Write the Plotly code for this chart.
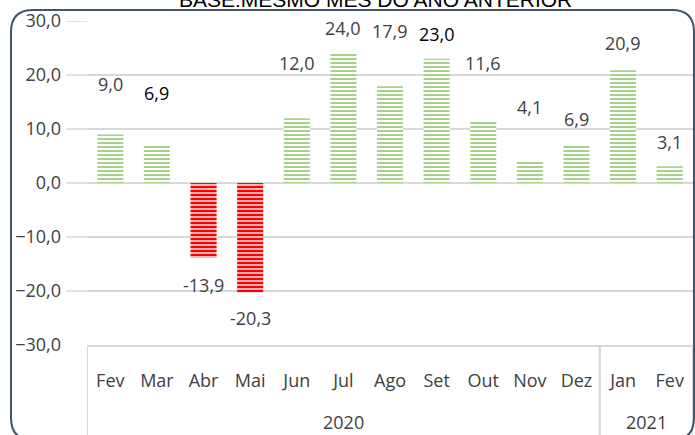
import plotly.graph_objects as go

years = ["2020"] * 11 + ["2021"] * 2
months = ["Fev", "Mar", "Abr", "Mai", "Jun", "Jul", "Ago", "Set", "Out", "Nov", "Dez", "Jan", "Fev"]
values = [9.0, 6.9, -13.9, -20.3, 12.0, 24.0, 17.9, 23.0, 11.6, 4.1, 6.9, 20.9, 3.1]
label_shift = [50, 53, -27, -25, 55, 25, 55, 25, 57, 54, 27, 27, 24]
label_dark = [False, True, False, False, False, False, False, True, False, False, False, False, False]
y_ticks = [-30, -20, -10, 0, 10, 20, 30]

GREEN = "#A9D18E"
RED = "#FF0000"
GRID = "#D9D9D9"
TXT = "#404040"
FONT = "Open Sans"

# plot area in pixels
L, R, T, B = 87, 693, 21, 345
W, H = 695, 435
pw, ph = R - L, B - T


def px(x):
    return (x - L) / pw


def py(y):
    return (B - y) / ph


keys = [f"{y}-{m}" for y, m in zip(years, months)]

fig = go.Figure()
for positive, color, solid in ((True, GREEN, 0.5), (False, RED, 0.65)):
    fig.add_trace(go.Bar(
        x=keys,
        y=[v if (v >= 0) == positive else None for v in values],
        width=0.56,
        marker=dict(
            color=color,
            line=dict(width=0),
            pattern=dict(shape="-", fgcolor=color, fgopacity=1, bgcolor="white",
                         size=4, solidity=solid),
        ),
        hoverinfo="skip",
    ))

for i, v in enumerate(values):
    fig.add_annotation(
        x=keys[i], y=v,
        text=f"{v:.1f}".replace(".", ","),
        showarrow=False,
        yshift=label_shift[i],
        font=dict(family=FONT, size=18, color="#000000" if label_dark[i] else TXT),
        xref="x", yref="y",
    )

shapes = []
# gridline extensions into the left margin
for t in y_ticks[1:]:
    shapes.append(dict(type="line", xref="paper", yref="y", x0=px(66), x1=0, y0=t, y1=t,
                       line=dict(color=GRID, width=1.5)))

# year groups: labels and dividers
groups = []
for i, y in enumerate(years):
    if not groups or groups[-1][0] != y:
        groups.append([y, i, i])
    else:
        groups[-1][2] = i
for name, a, b in groups:
    fig.add_annotation(
        x=(a + b) / 2, y=py(422), xref="x", yref="paper", text=name, showarrow=False,
        yanchor="middle", font=dict(family=FONT, size=18, color=TXT),
    )
    for xb in (a - 0.5, b + 0.5):
        shapes.append(dict(type="line", xref="x", yref="paper", x0=xb, x1=xb,
                           y0=0, y1=py(445), line=dict(color=GRID, width=2)))

# rounded chart border
r = 22
x0, y0, x1, y1 = 11, 10, 694, 440
path = (f"M {px(x0)},{py(y1 - r)} L {px(x0)},{py(y0 + r)} "
        f"Q {px(x0)},{py(y0)} {px(x0 + r)},{py(y0)} "
        f"L {px(x1 - r)},{py(y0)} Q {px(x1)},{py(y0)} {px(x1)},{py(y0 + r)} "
        f"L {px(x1)},{py(y1 - r)} Q {px(x1)},{py(y1)} {px(x1 - r)},{py(y1)} "
        f"L {px(x0 + r)},{py(y1)} Q {px(x0)},{py(y1)} {px(x0)},{py(y1 - r)} Z")
shapes.append(dict(type="path", xref="paper", yref="paper", path=path,
                   line=dict(color="#44546A", width=2), fillcolor="rgba(0,0,0,0)"))

fig.update_layout(
    width=W, height=H,
    margin=dict(l=L, r=W - R, t=T, b=H - B, autoexpand=False),
    paper_bgcolor="white", plot_bgcolor="white",
    separators=",.",
    showlegend=False,
    barmode="relative",
    shapes=shapes,
    font=dict(family=FONT, size=18, color=TXT),
)
fig.add_annotation(
    text="BASE:MESMO MÊS DO ANO ANTERIOR", xref="paper", yref="paper",
    x=px(375), y=py(0), showarrow=False, yanchor="middle", xanchor="center",
    font=dict(family="Liberation Sans", size=21, color="#000000"),
)

fig.update_xaxes(
    type="category", tickvals=keys, ticktext=months,
    range=[-0.5, len(keys) - 0.5],
    showline=True, linecolor=GRID, linewidth=2,
    ticks="", showgrid=False, automargin=False, ticklabelstandoff=18,
    tickfont=dict(family=FONT, size=18, color=TXT),
)
fig.update_yaxes(
    range=[-30, 30], tickvals=y_ticks, tickformat=".1f",
    showgrid=True, gridcolor=GRID, gridwidth=1.5,
    zeroline=True, zerolinecolor=GRID, zerolinewidth=1.5,
    ticks="", ticklabelstandoff=25, automargin=False,
    tickfont=dict(family=FONT, size=18, color=TXT),
)

fig.write_html(
    "out.html",
    config={"displayModeBar": False},
    post_script="document.body.style.margin='0';document.body.style.overflow='hidden';",
)
